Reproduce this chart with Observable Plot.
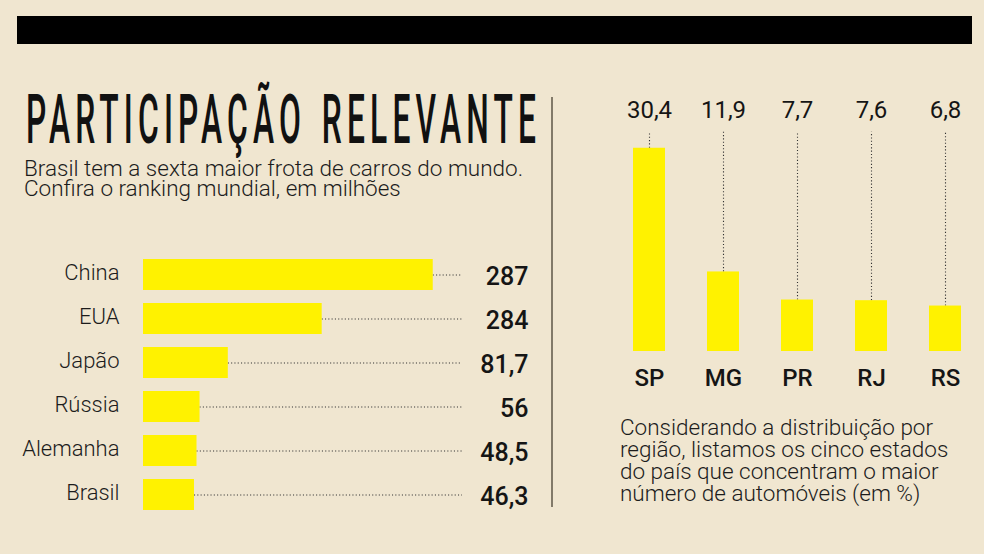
<!DOCTYPE html>
<html><head><meta charset="utf-8">
<script src="https://cdn.jsdelivr.net/npm/d3@7"></script>
<script src="https://cdn.jsdelivr.net/npm/@observablehq/plot@0.6"></script>
<style>
html,body{margin:0;padding:0;background:#f0e6d0;}
#page{position:relative;width:984px;height:554px;overflow:hidden;background:#f0e6d0;font-family:Roboto,sans-serif;color:#1c1c1c;}
#deco{position:absolute;left:0;top:0;}
#left{position:absolute;left:0;top:240px;}
#right{position:absolute;left:560px;top:80px;}
.note{position:absolute;font-family:Roboto,sans-serif;font-size:22.5px;font-weight:300;color:#1c1c1c;white-space:normal;margin:0;}
#subtitle{left:24px;top:159px;width:530px;line-height:19.5px;}
#caption{left:620px;top:415.5px;width:340px;line-height:22px;}
</style></head><body>
<div id="page">
<svg id="deco" width="984" height="554" font-family="Roboto">
  <rect x="17" y="16" width="955" height="28" fill="#000"/>
  <text id="title" x="0" y="0" transform="translate(26,142.5) scale(0.5,1)" font-weight="500" font-size="68" letter-spacing="11" word-spacing="6" fill="#111">PARTICIPAÇÃO RELEVANTE</text>
  <line x1="552" y1="97" x2="552" y2="507" stroke="#5e5647" stroke-width="1.5"/>
</svg>
<p class="note" id="subtitle">Brasil tem a sexta maior frota de carros do mundo. Confira o ranking mundial, em milhões</p>
<p class="note" id="caption">Considerando a distribuição por região, listamos os cinco estados do país que concentram o maior número de automóveis (em %)</p>
<div id="left"></div>
<div id="right"></div>
</div>
<script>
// Frota mundial de carros (milhões)
const countries = ["China", "EUA", "Japão", "Rússia", "Alemanha", "Brasil"];
const fleetLabels = ["287", "284", "81,7", "56", "48,5", "46,3"];
// bar lengths as drawn in the original infographic
const fleetBars = [287, 177, 84, 56, 53, 50.5];

// Distribuição por estado (%)
const states = ["SP", "MG", "PR", "RJ", "RS"];
const shares = [30.4, 11.9, 7.7, 7.6, 6.8];
const shareLabels = ["30,4", "11,9", "7,7", "7,6", "6,8"];

const YELLOW = "#fff200";
const INK = "#151515";

// fit the condensed title to its width
const title = document.getElementById("title");
const natural = title.getComputedTextLength() - 11;
title.setAttribute("transform", `translate(26,142.5) scale(${(510 / natural).toFixed(4)},1)`);

const fleet = countries.map((c, i) => ({country: c, bar: fleetBars[i], label: fleetLabels[i]}));
const xMax = 316;
const left = Plot.plot({
  width: 560, height: 290, margin: 0,
  x: {domain: [0, xMax], range: [143, 462], axis: null},
  y: {domain: countries, range: [18, 271.5], paddingInner: 0.29, paddingOuter: 0, axis: null},
  style: {background: "transparent", fontFamily: "Roboto", overflow: "visible"},
  marks: [
    Plot.ruleY(fleet, {y: "country", x1: "bar", x2: () => xMax, stroke: "#333", strokeWidth: 1.1, strokeDasharray: "1.1 2.2"}),
    Plot.barX(fleet, {y: "country", x: "bar", fill: YELLOW}),
    Plot.text(fleet, {y: "country", x: () => xMax, text: "label", textAnchor: "end", dx: 66, dy: 2, fontSize: 25, fontWeight: 500, fill: INK}),
    Plot.text(fleet, {y: "country", x: () => 0, text: "country", textAnchor: "end", dx: -24, dy: -2, fontSize: 22, fontWeight: 300, fill: "#1c1c1c"})
  ]
});
document.getElementById("left").appendChild(left);

const shareData = states.map((s, i) => ({state: s, share: shares[i], label: shareLabels[i]}));
const yMax = 32.8;
const right = Plot.plot({
  width: 424, height: 320, margin: 0,
  x: {domain: states, range: [71, 401.7], paddingInner: 0.572, paddingOuter: 0, axis: null},
  y: {domain: [0, yMax], range: [271, 51.7], axis: null},
  style: {background: "transparent", fontFamily: "Roboto", overflow: "visible"},
  marks: [
    Plot.ruleX(shareData, {x: "state", y1: "share", y2: () => yMax, stroke: "#333", strokeWidth: 1.1, strokeDasharray: "1.1 2.2"}),
    Plot.barY(shareData, {x: "state", y: "share", fill: YELLOW}),
    Plot.text(shareData, {x: "state", y: () => yMax, text: "label", lineAnchor: "bottom", dy: -14, fontSize: 24, fontWeight: 400, fill: INK}),
    Plot.text(shareData, {x: "state", y: () => 0, text: "state", lineAnchor: "top", dy: 17, fontSize: 24, fontWeight: 500, fill: INK})
  ]
});
document.getElementById("right").appendChild(right);
</script>
</body></html>
